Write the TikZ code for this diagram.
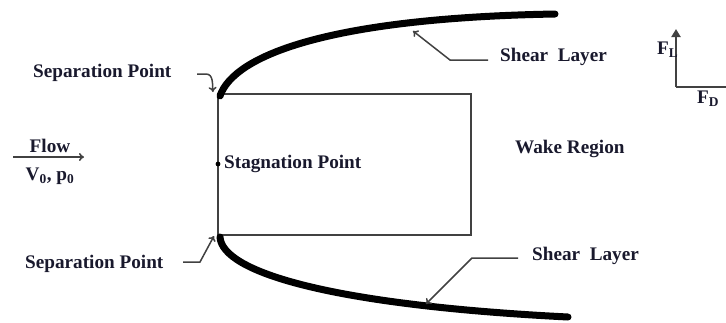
\documentclass[tikz,border=0pt]{standalone}
\usepackage{fontspec}
\setmainfont{Liberation Serif}
\usetikzlibrary{arrows.meta}
\definecolor{txt}{RGB}{25,25,45}
\definecolor{ln}{RGB}{65,65,65}
\begin{document}
\begin{tikzpicture}[x=1pt,y=-1pt,
  lbl/.style={font=\fontsize{19.2}{22}\selectfont\bfseries, text=txt, inner sep=0pt},
  body/.style={draw=ln, line width=1.9pt},
  shear/.style={draw=black, line width=7pt, line cap=round},
  leader/.style={draw=ln, line width=1.5pt, -{To[length=5pt,width=8pt]}},
  force/.style={draw=ln, line width=2pt, -{Triangle[length=8pt,width=9pt]}}]
\useasboundingbox (0,0) rectangle (726,322);
% body
\coordinate (TL) at (218,94);
\coordinate (TR) at (471,94);
\coordinate (BR) at (471,235);
\coordinate (BL) at (218,235);
\draw[body] (TL) -- (TR) -- (BR) -- (BL) -- cycle;
% shear layers
\coordinate (s1a) at (220,96);
\coordinate (s1b) at (555,14);
\coordinate (s2a) at (220,237);
\coordinate (s2b) at (568,317);
\draw[shear] (s1a) .. controls (234,55) and (330,18) .. (s1b);
\draw[shear] (s2a) .. controls (222,272) and (330,305) .. (s2b);
% stagnation point
\coordinate (stag) at (218,164);
\fill[black] (stag) circle (2.4pt);
\node[lbl, anchor=base west] (stagl) at (224,168) {Stagnation Point};
% labels
\node[lbl, anchor=base west] (sep1) at (33,77) {Separation Point};
\node[lbl, anchor=base west] (sep2) at (25,268) {Separation Point};
\node[lbl, anchor=base west] (sh1) at (500,61) {Shear\ \ Layer};
\node[lbl, anchor=base west] (sh2) at (532,260) {Shear\ \ Layer};
\node[lbl, anchor=base west] (wake) at (515,153) {Wake Region};
\node[lbl, anchor=base] (flow) at (50,152) {Flow};
\node[lbl, anchor=base] (vp) at (50,180) {V\textsubscript{0}, p\textsubscript{0}};
% flow arrow
\coordinate (fa) at (13,157);
\coordinate (fb) at (84,157);
\draw[leader, line width=1.6pt] (fa) -- (fb);
% leaders
\coordinate (l1a) at (488,60);
\coordinate (l1b) at (450,60);
\coordinate (l1t) at (413,31);
\draw[leader] (l1a) -- (l1b) -- (l1t);
\coordinate (l2a) at (518,258);
\coordinate (l2b) at (472,258);
\coordinate (l2t) at (426,304);
\draw[leader] (l2a) -- (l2b) -- (l2t);
\coordinate (l3a) at (197,74);
\coordinate (l3b) at (206,74);
\coordinate (l3t) at (213,92);
\draw[leader] (l3a) -- (l3b) to[out=0,in=95] (l3t);
\coordinate (l4a) at (183,262);
\coordinate (l4b) at (200,262);
\coordinate (l4t) at (214,236);
\draw[leader] (l4a) -- (l4b) -- (l4t);
% forces
\coordinate (O) at (676,87);
\coordinate (FLt) at (676,29);
\coordinate (FDt) at (736,87);
\draw[force] (O) -- (FLt);
\draw[force] (O) -- (FDt);
\node[lbl, anchor=base west] (FL) at (657,54) {F\textsubscript{L}};
\node[lbl, anchor=base west] (FD) at (697,103) {F\textsubscript{D}};
\end{tikzpicture}
\end{document}
